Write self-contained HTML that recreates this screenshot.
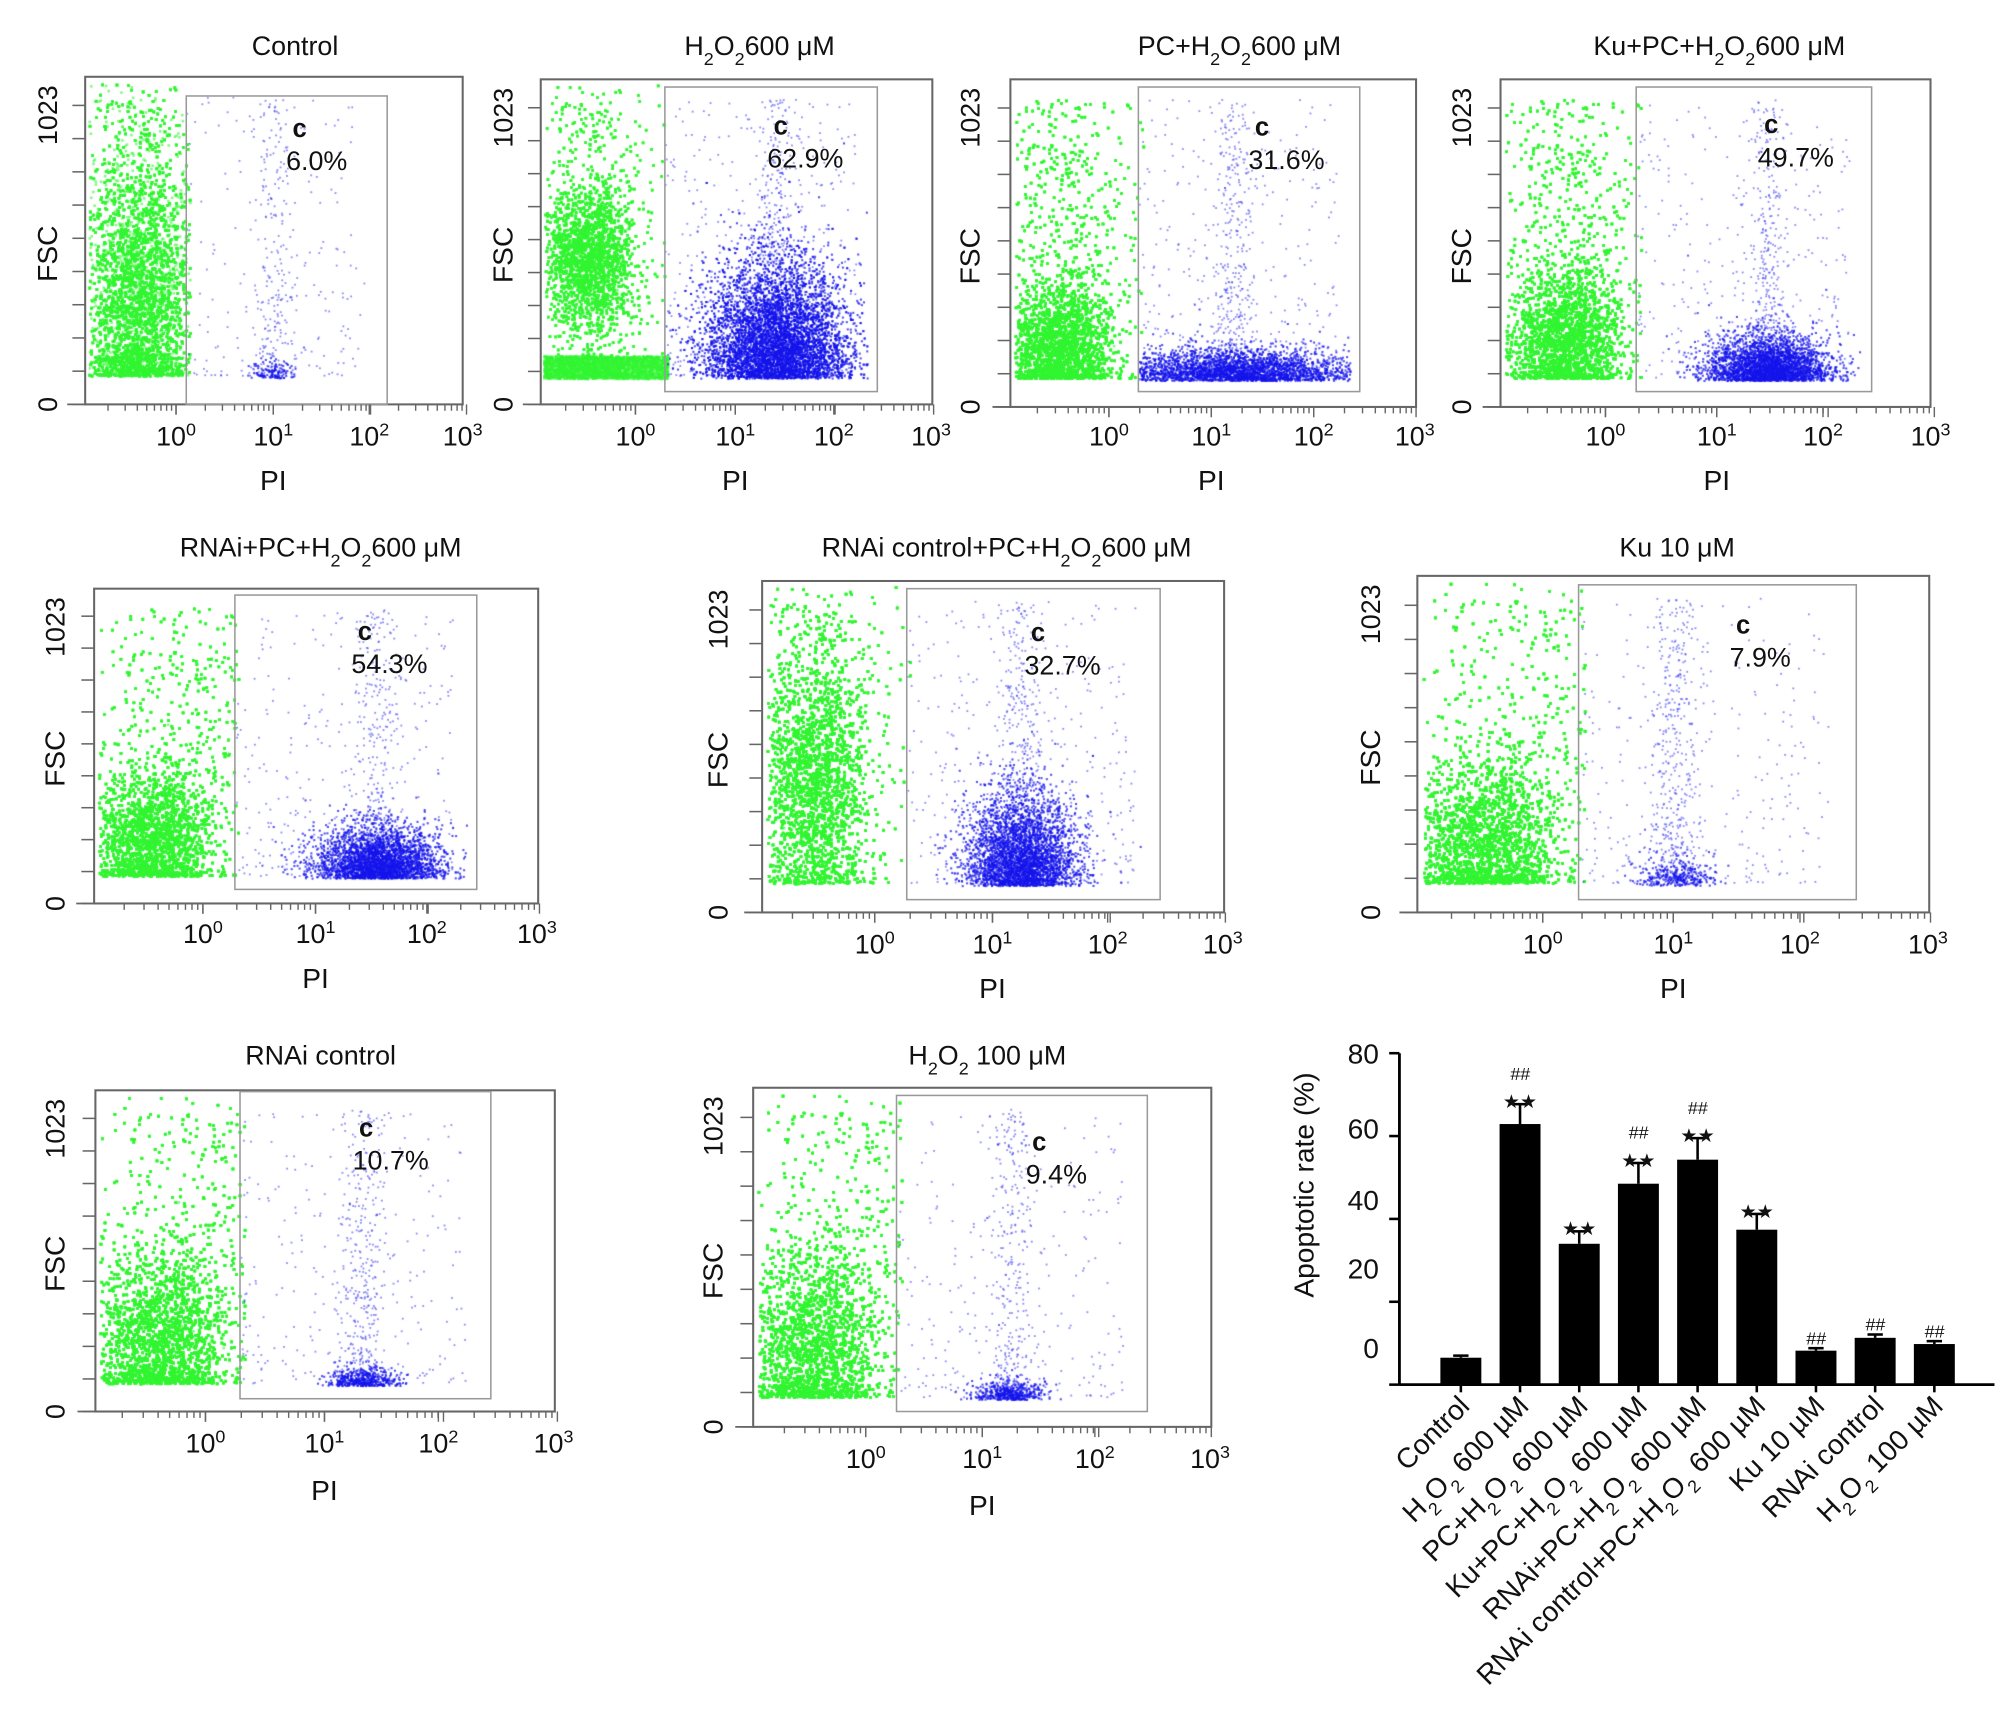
<!DOCTYPE html>
<html><head><meta charset="utf-8">
<style>
html,body{margin:0;padding:0;background:#fff;}
#wrap{position:relative;width:2008px;height:1734px;overflow:hidden;}
canvas,svg{position:absolute;left:0;top:0;}
text{font-family:"Liberation Sans",Arial,sans-serif;fill:#111;}
</style></head>
<body>
<div id="wrap">
<canvas id="cv" width="2008" height="1734"></canvas>
<svg id="sv" width="2008" height="1734" viewBox="0 0 1568 1355"></svg>
</div>
<script>
// ---- Bar chart data ----
const categories = ["Control","H2O2 600 µM","PC+H2O2 600 µM","Ku+PC+H2O2 600 µM","RNAi+PC+H2O2 600 µM","RNAi control+PC+H2O2 600 µM","Ku 10 µM","RNAi control","H2O2 100 µM"];
const rates = [6.5, 62.9, 34.0, 48.5, 54.3, 37.4, 8.2, 11.3, 9.8];
const errors = [0.5, 4.8, 3.0, 5.0, 5.2, 3.8, 0.6, 0.8, 0.7];
const stars = ["", "**", "**", "**", "**", "**", "", "", ""];
const hashes = ["", "##", "", "##", "##", "", "##", "##", "##"];
const yTicks = [0, 20, 40, 60, 80];

// ---- Flow panels ----
const panelTitles = ["Control","H<tspan baseline-shift='sub' font-size='14'>2</tspan>O<tspan baseline-shift='sub' font-size='14'>2</tspan>600 μM","PC+H<tspan baseline-shift='sub' font-size='14'>2</tspan>O<tspan baseline-shift='sub' font-size='14'>2</tspan>600 μM","Ku+PC+H<tspan baseline-shift='sub' font-size='14'>2</tspan>O<tspan baseline-shift='sub' font-size='14'>2</tspan>600 μM","RNAi+PC+H<tspan baseline-shift='sub' font-size='14'>2</tspan>O<tspan baseline-shift='sub' font-size='14'>2</tspan>600 μM","RNAi control+PC+H<tspan baseline-shift='sub' font-size='14'>2</tspan>O<tspan baseline-shift='sub' font-size='14'>2</tspan>600 μM","Ku 10 μM","RNAi control","H<tspan baseline-shift='sub' font-size='14'>2</tspan>O<tspan baseline-shift='sub' font-size='14'>2</tspan> 100 μM"];
const panelPercents = ["6.0%","62.9%","31.6%","49.7%","54.3%","32.7%","7.9%","10.7%","9.4%"];

const L = [
 {f:[66,60,361,316],g:[145,75,302,316],t:[230,36],c:[228,100],xl:[137,213,288,361],xy:348,py:383,yx:36,green:[0.14,0.085,0.22,0.20,11000,1.0,0],blue:[0.50,0.03,0.02,120,200,200]},
 {f:[422,62,728,316],g:[519,68,685,306],t:[593,36],c:[604,98],xl:[496,574,651,727],xy:348,py:383,yx:392,green:[0.12,0.07,0.36,0.10,7000,1.0,0],blue:[0.60,0.09,0.13,7000,300,400],band:1},
 {f:[789,62,1106,318],g:[889,68,1062,306],t:[968,36],c:[980,99],xl:[866,946,1026,1105],xy:348,py:383,yx:757,green:[0.12,0.08,0.10,0.09,9000,0.85,0],blue:[0.55,0.15,0.035,3000,350,350]},
 {f:[1172,62,1508,318],g:[1278,68,1462,306],t:[1343,36],c:[1378,97],xl:[1254,1341,1424,1508],xy:348,py:383,yx:1141,green:[0.15,0.08,0.12,0.10,9000,0.85,0],blue:[0.62,0.07,0.05,3000,350,300]},
 {f:[73,460,420,706],g:[183,465,372,695],t:[250,428],c:[279,493],xl:[158,246,333,419],xy:737,py:772,yx:42,green:[0.13,0.085,0.12,0.10,9000,0.85,1],blue:[0.64,0.07,0.06,3000,350,300]},
 {f:[595,454,956,713],g:[708,460,906,703],t:[786,428],c:[805,494],xl:[683,775,865,955],xy:745,py:780,yx:560,green:[0.11,0.07,0.30,0.18,11000,1.0,0],blue:[0.56,0.06,0.10,3500,400,350]},
 {f:[1107,450,1507,713],g:[1233,457,1450,703],t:[1310,428],c:[1356,488],xl:[1205,1307,1406,1506],xy:745,py:780,yx:1070,green:[0.13,0.09,0.12,0.12,11000,1.0,1],blue:[0.50,0.04,0.03,300,450,250]},
 {f:[74,852,433,1103],g:[187,853,383,1093],t:[250,825],c:[280,881],xl:[160,253,342,432],xy:1135,py:1172,yx:42,green:[0.14,0.09,0.14,0.13,11000,1.0,1],blue:[0.58,0.04,0.02,450,350,250]},
 {f:[588,850,946,1115],g:[700,856,896,1103],t:[771,825],c:[806,892],xl:[676,767,855,945],xy:1147,py:1184,yx:556,green:[0.13,0.09,0.15,0.14,11000,1.0,1],blue:[0.56,0.04,0.02,450,300,250]}
];

const svg = document.getElementById('sv');
const NS = "http://www.w3.org/2000/svg";
function el(tag, attrs, parent){const e=document.createElementNS(NS,tag);for(const k in attrs)e.setAttribute(k,attrs[k]);(parent||svg).appendChild(e);return e;}

const cv=document.getElementById('cv');const ctx=cv.getContext('2d');
ctx.scale(2008/1568,1734/1355);
let seed=12345;function rnd(){seed=(seed*1103515245+12345)%2147483648;return seed/2147483648;}
function gauss(){let u=rnd()||1e-6,v=rnd();return Math.sqrt(-2*Math.log(u))*Math.cos(2*Math.PI*v);}

L.forEach((p,i)=>{
  const [x0,y0,x1,y1]=p.f, W=x1-x0, H=y1-y0;
  const [gx0,gy0,gx1,gy1]=p.g;
  const base = y1 - H*0.09;
  const top = y0+3;
  const [cx,sx,cy,sy,n0,tt,slope]=p.green;
  const n=Math.round(n0*1.8);
  ctx.fillStyle='rgba(50,245,50,0.6)';
  const gxMax = (gx0-x0)/W;
  for(let k=0;k<n;k++){
    let fx, fy;
    if(rnd()<0.7){fx=cx+gauss()*sx*0.8; fy=cy+gauss()*sy;}
    else {fy=Math.pow(rnd(),1.3)*tt; fx=cx+gauss()*sx*(1+ (slope? fy*1.2:0.2)) + (slope? fy*0.12:0);}
    if(fy<0) fy=-fy*0.3;
    const x=x0+fx*W, y=base-fy*H;
    if(fx<0.01 || fx>gxMax+0.01 || y<top || y>base+2) continue;
    ctx.fillRect(x,y,2,2);
  }
  if(p.band){for(let k=0;k<2500;k++){const x=x0+2+rnd()*(gx0-x0),y=base+2-rnd()*H*0.07;ctx.fillRect(x,y,2,2);}}
  const [bx,bsx,bsy,nd,ns,nsp]=p.blue;
  ctx.fillStyle='rgba(40,40,235,0.55)';
  for(let k=0;k<nsp;k++){const x=gx0+rnd()*(gx1-gx0)*0.9,y=base-Math.pow(rnd(),1.6)*(H*0.85);ctx.fillRect(x,y,1.4,1.4);}
  for(let k=0;k<ns;k++){const x=x0+W*(bx+gauss()*0.025),y=base-Math.pow(rnd(),1.4)*H*0.85;if(x>gx0)ctx.fillRect(x,y,1.4,1.4);}
  ctx.fillStyle='rgba(20,20,235,0.75)';
  for(let k=0;k<nd;k++){const x=x0+W*(bx+gauss()*bsx),y=base+2-Math.abs(gauss())*H*bsy*1.3;if(x>gx0&&x<gx1-8)ctx.fillRect(x,y,1.6,1.6);}
});

L.forEach((p,i)=>{
  const g=el('g',{});
  
  
  const [x0,y0,x1,y1]=p.f;
  el('rect',{x:x0,y:y0,width:x1-x0,height:y1-y0,fill:'none',stroke:'#666','stroke-width':1.6},g);
  const gt=el('rect',{x:p.g[0],y:p.g[1],width:p.g[2]-p.g[0],height:p.g[3]-p.g[1],fill:'none',stroke:'#999','stroke-width':1.2},g);
  
  const H=y1-y0;
  for(let k=0;k<=9;k++){const y=y1-k*H*0.0975*1.04; if(y<y0)break; el('line',{x1:x0-10,x2:x0,y1:y,y2:y,stroke:'#666','stroke-width':1.2},g);}
  el('line',{x1:x0-14,x2:x0,y1:y1,y2:y1,stroke:'#666','stroke-width':1.4},g);
  const xl=p.xl, dec=xl[1]-xl[0];
  const starts=[xl[0]-dec,xl[0],xl[1],xl[2]];
  starts.forEach(s=>{for(let m=1;m<=10;m++){const x=s+Math.log10(m)*dec;if(x<x0+4)continue;el('line',{x1:x,x2:x,y1:y1,y2:y1+(m===1||m===10?8:5),stroke:'#666','stroke-width':1.1},g);}});
  xl.forEach((x,k)=>{const t=el('text',{x:x,y:p.xy,'text-anchor':'middle','font-size':21},g);t.innerHTML='10<tspan baseline-shift="super" font-size="14">'+k+'</tspan>';});
  const pi=el('text',{x:xl[1],y:p.py,'text-anchor':'middle','font-size':22},g);pi.textContent='PI';
  const t1=el('text',{transform:`translate(${p.yx+8},${y0+30}) rotate(-90)`,'text-anchor':'middle','font-size':21},g);t1.textContent='1023';
  const t2=el('text',{transform:`translate(${p.yx+8},${y0+(y1-y0)*0.54}) rotate(-90)`,'text-anchor':'middle','font-size':22},g);t2.textContent='FSC';
  const t3=el('text',{transform:`translate(${p.yx+8},${y1}) rotate(-90)`,'text-anchor':'middle','font-size':21},g);t3.textContent='0';
  const tt=el('text',{x:p.t[0],y:p.t[1]+7,'text-anchor':'middle','font-size':21},g);tt.innerHTML=panelTitles[i];
  
  const c=el('text',{x:p.c[0],y:p.c[1]+7,'font-size':20,'font-weight':'bold'},g);c.textContent='c';
  const pc=el('text',{x:p.c[0]-5,y:p.c[1]+33,'font-size':21},g);pc.textContent=panelPercents[i];
  
});

// ---- Bar chart ----
const bc=el('g',{});
const AX=1093, AY0=1082, AYTOP=823, AXEND=1558;
function yS(v){return AY0-(v/80)*(AY0-AYTOP);}
const firstC=1141, step=46.25, bw=32;
function xS(i){return firstC+i*step;}
el('line',{x1:AX,x2:AX,y1:AYTOP,y2:AY0,stroke:'#000','stroke-width':2.2},bc);
el('line',{x1:AX,x2:AXEND,y1:AY0,y2:AY0,stroke:'#000','stroke-width':2.2},bc);
yTicks.forEach((v,k)=>{el('line',{x1:AX-8,x2:AX,y1:yS(v),y2:yS(v),stroke:'#000','stroke-width':2},bc);
  const t=el('text',{x:AX-16,y:yS(v)+8+[-29,-26,-15,-6,0][k]*(k===4?0:1),'text-anchor':'end','font-size':22},bc);t.textContent=v;});
const yt=el('text',{transform:'translate(1026,926) rotate(-90)','text-anchor':'middle','font-size':22},bc);yt.textContent='Apoptotic rate (%)';

categories.forEach((c,i)=>{
  const x=xS(i), top=yS(rates[i]), et=yS(rates[i]+errors[i]);
  const r=el('rect',{x:x-bw/2,y:top,width:bw,height:AY0-top,fill:'#000'},bc);
  
  el('line',{x1:x,x2:x,y1:top,y2:et,stroke:'#000','stroke-width':2},bc);
  el('line',{x1:x-6,x2:x+6,y1:et,y2:et,stroke:'#000','stroke-width':2},bc);
  el('line',{x1:x,x2:x,y1:AY0,y2:AY0+6,stroke:'#000','stroke-width':2},bc);
  let yy=et-3;
  if(stars[i]){const s=el('text',{x:x,y:yy+6,'text-anchor':'middle','font-size':15},bc);s.textContent='★★';yy-=16;}
  if(hashes[i]){const h=el('text',{x:x,y:yy,'text-anchor':'middle','font-size':14,'font-style':'italic'},bc);h.textContent='##';}
  const lab=el('text',{transform:`translate(${x+8},${AY0+18}) rotate(-45)`,'text-anchor':'end','font-size':22},bc);
  lab.innerHTML=c.replace(/H2O2/g,"H<tspan baseline-shift='sub' font-size='14'>2</tspan>O<tspan baseline-shift='sub' font-size='14'>2</tspan>");
  
});
</script>
</body></html>
